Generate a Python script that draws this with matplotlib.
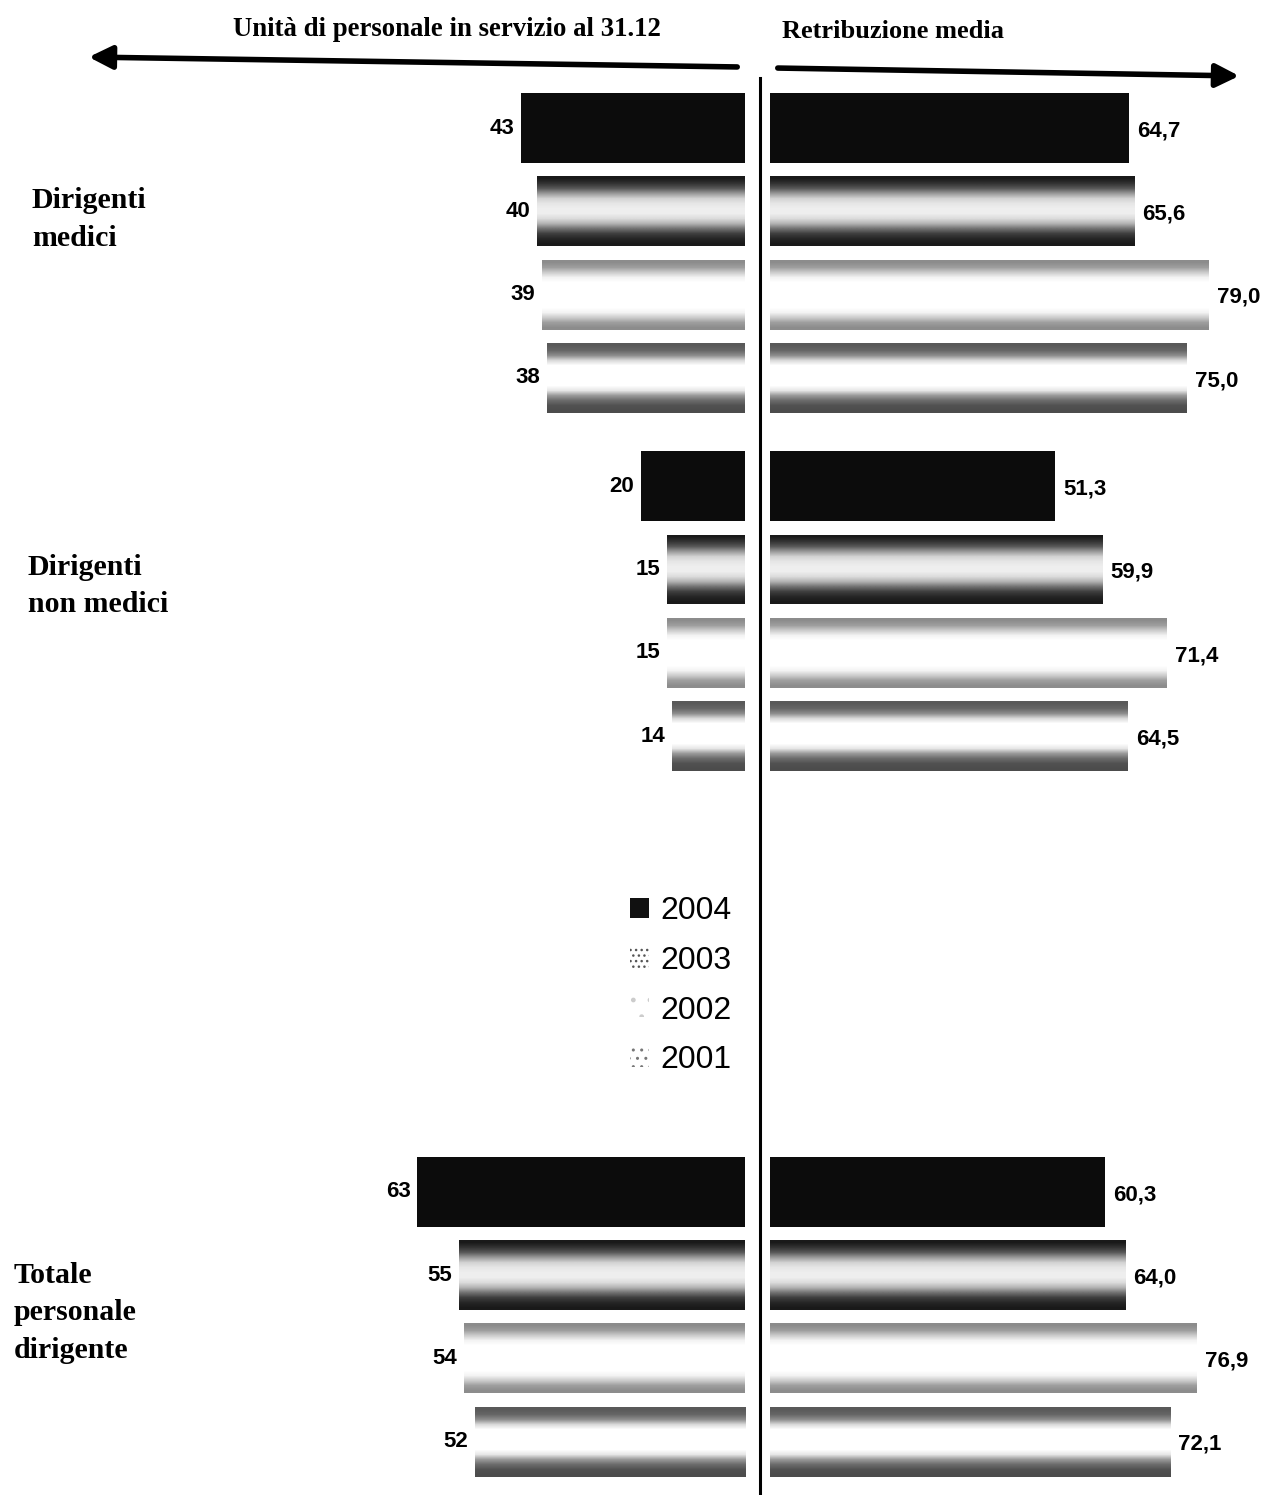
import numpy as np
import matplotlib
matplotlib.use("Agg")
import matplotlib.pyplot as plt
from matplotlib.patches import Patch, FancyArrowPatch
from matplotlib.transforms import blended_transform_factory

# ---- dati ----
years = ["2004", "2003", "2002", "2001"]
groups = ["Dirigenti\nmedici", "Dirigenti\nnon medici", "Totale\npersonale\ndirigente"]

# unità di personale in servizio al 31.12 (anni 2004, 2003, 2002, 2001)
unita_medici = [43, 40, 39, 38]
unita_non_medici = [20, 15, 15, 14]
unita_totale = [63, 55, 54, 52]

# retribuzione media (migliaia di euro)
retrib_medici = [64.7, 65.6, 79.0, 75.0]
retrib_non_medici = [51.3, 59.9, 71.4, 64.5]
retrib_totale = [60.3, 64.0, 76.9, 72.1]

title_left = "Unità di personale in servizio al 31.12"
title_right = "Retribuzione media"

# ---- layout ----
W, H = 1287, 1495
SLOT = 83.3          # px per barra
FIRST = 128          # centro prima barra (px dall'alto)
group_pos = [0, 4.3, 12.77]
label_off = [1.1, 1.2, 1.45]
bar_h = 0.84
px_left, px_right = 5.2, 5.55   # px per unità

# profili di grigio (alto -> basso) che imitano le trame della scansione
profiles = {
    "2003": [0.1, 0.2, 0.35, 0.6, 0.82, 0.9, 0.93, 0.93, 0.86, 0.7, 0.45, 0.25, 0.15, 0.1],
    "2002": [0.55, 0.62, 0.8, 0.95, 1, 1, 1, 1, 1, 1, 0.95, 0.8, 0.62, 0.55],
    "2001": [0.35, 0.4, 0.55, 0.85, 1, 1, 1, 1, 1, 0.9, 0.6, 0.42, 0.32, 0.3],
}

fig = plt.figure(figsize=(W / 100, H / 100), dpi=100)
fig.patch.set_facecolor("white")

ax_l = fig.add_axes([0, 0, 745 / W, 1])
ax_r = fig.add_axes([760 / W, 0, (W - 760) / W, 1])

ytop = -FIRST / SLOT
ybot = (H - FIRST) / SLOT

num_font = dict(family="Liberation Sans", weight="bold", size=16)


def draw_bars(ax, values, ypos, left_side):
    bars = ax.barh(ypos, values, height=bar_h, color="none", edgecolor="none")
    for yr, bar, v in zip(years, bars, values):
        x0, y0 = bar.get_x(), bar.get_y()
        w, h = bar.get_width(), bar.get_height()
        if yr == "2004":
            bar.set_facecolor("#0c0c0c")
        else:
            prof = np.array(profiles[yr])[:, None]
            im = ax.imshow(prof, cmap="gray", vmin=0, vmax=1, origin="lower",
                           extent=(x0, x0 + w, y0, y0 + h), aspect="auto",
                           interpolation="bilinear", zorder=2)
            im.set_clip_path(bar)
        if left_side:
            txt = f"{v:d}"
            ax.annotate(txt, (v, bar.get_y() + h / 2), xytext=(-5, 0),
                        textcoords="offset points", ha="right", va="center", **num_font)
        else:
            txt = f"{v:.1f}".replace(".", ",")
            ax.annotate(txt, (v, bar.get_y() + h / 2), xytext=(6, -2),
                        textcoords="offset points", ha="left", va="center", **num_font)


unita = [unita_medici, unita_non_medici, unita_totale]
retrib = [retrib_medici, retrib_non_medici, retrib_totale]
for g, (u, r) in enumerate(zip(unita, retrib)):
    ypos = [group_pos[g] + i for i in range(len(years))]
    draw_bars(ax_l, u, ypos, True)
    draw_bars(ax_r, r, ypos, False)

ax_l.set_xlim(745 / px_left, 0)
ax_r.set_xlim(-10 / px_right, (W - 770) / px_right)
for ax in (ax_l, ax_r):
    ax.set_ylim(ybot, ytop)
    ax.set_xticks([])
    ax.set_yticks([])
    for s in ax.spines.values():
        s.set_visible(False)
    ax.patch.set_alpha(0)

# linea verticale centrale
ax_r.spines["left"].set_visible(True)
ax_r.spines["left"].set_linewidth(2.2)
ax_r.spines["left"].set_bounds(ybot, -0.6)

# etichette di gruppo
tr = blended_transform_factory(fig.transFigure, ax_l.transData)
label_x = [32, 28, 14]
for g, name in enumerate(groups):
    ax_l.text(label_x[g] / W, group_pos[g] + label_off[g], name, transform=tr,
              ha="left", va="center", family="Liberation Serif", weight="bold",
              size=21.5, linespacing=1.5)

# titoli e frecce
fig.text(447 / W, 1 - 30 / H, title_left, ha="center", va="center",
         family="Liberation Serif", weight="bold", size=19.3)
fig.text(893 / W, 1 - 32 / H, title_right, ha="center", va="center",
         family="Liberation Serif", weight="bold", size=19)

for p0, p1 in [((740, 67), (86, 57)), ((775, 68), (1242, 76))]:
    fig.add_artist(FancyArrowPatch((p0[0] / W, 1 - p0[1] / H), (p1[0] / W, 1 - p1[1] / H),
                                   transform=fig.transFigure,
                                   arrowstyle="-|>,head_length=0.7,head_width=0.35",
                                   mutation_scale=20, lw=4, color="black"))

# legenda
handles = [
    Patch(facecolor="#111111", edgecolor="none"),
    Patch(facecolor="white", edgecolor="#555555", hatch="...", lw=0),
    Patch(facecolor="white", edgecolor="#cccccc", hatch=".", lw=0),
    Patch(facecolor="white", edgecolor="#777777", hatch="..", lw=0),
]
fig.legend(handles, years, loc="upper left", bbox_to_anchor=(630 / W, 1 - 896 / H),
           frameon=False, prop=dict(family="Liberation Sans", size=23),
           handlelength=0.6, handleheight=0.6, handletextpad=0.35,
           labelspacing=0.62, borderpad=0, borderaxespad=0)

fig.savefig("out.png", dpi=100)
